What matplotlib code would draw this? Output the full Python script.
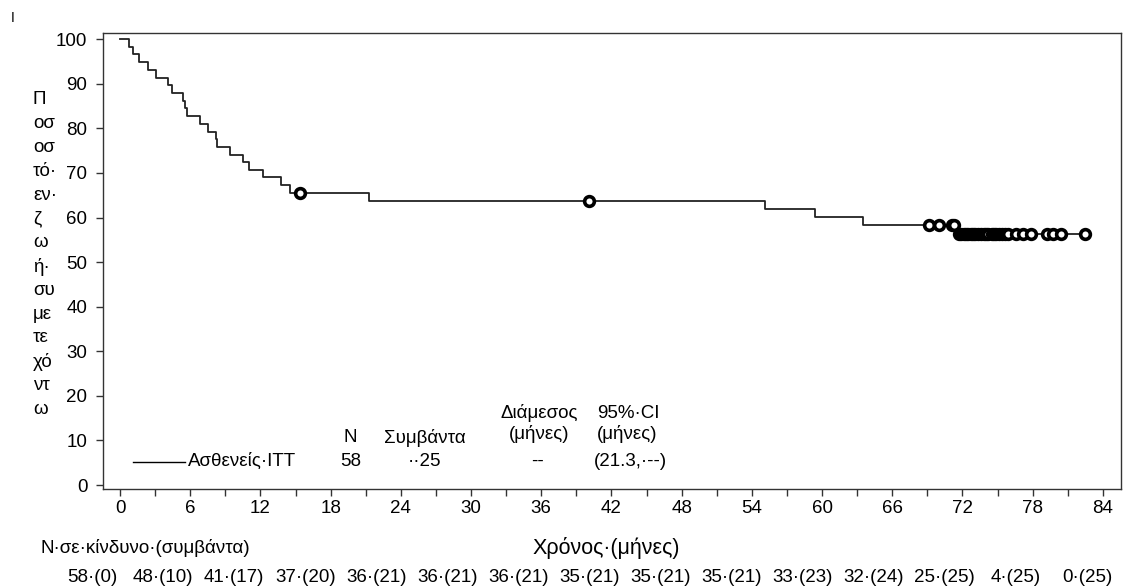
import matplotlib
matplotlib.use("Agg")
import matplotlib.pyplot as plt
import numpy as np

plt.rcParams["font.family"] = ["Liberation Sans", "DejaVu Sans"]

# event times (months) and survival (%) after each event
event_months = [0.77, 1.14, 1.65, 2.42, 3.05, 4.13, 4.42, 5.41, 5.56, 5.75,
                6.84, 7.55, 8.21, 8.26, 9.40, 10.49, 11.03, 12.25, 13.76, 14.53,
                21.3, 55.1, 59.4, 63.5, 71.5]
event_surv = [98.3, 96.6, 94.8, 93.1, 91.4, 89.7, 87.9, 86.2, 84.5, 82.8,
              81.0, 79.3, 77.6, 75.9, 74.1, 72.4, 70.7, 69.0, 67.2, 65.5,
              63.8, 61.9, 60.1, 58.3, 56.2]
last_month = 82.5

# censored patients
censor_months = [15.4, 40.1, 69.1, 70.0, 71.1, 71.3,
                 71.7, 71.9, 72.1, 72.3, 72.5, 72.7, 72.9, 73.1, 73.3, 73.6,
                 73.8, 74.0, 74.2, 74.5, 74.7, 74.9, 75.1, 75.4, 75.6, 75.9,
                 76.6, 77.2, 77.9, 79.2, 79.7, 80.4, 82.5]
censor_surv = [65.5, 63.8, 58.3, 58.3, 58.3, 58.3] + [56.2] * 27

xticks = list(range(0, 85, 6))
at_risk = [58, 48, 41, 37, 36, 36, 36, 35, 35, 35, 33, 32, 25, 4, 0]
at_risk_events = [0, 10, 17, 20, 21, 21, 21, 21, 21, 21, 23, 24, 25, 25, 25]

ylabel_parts = ["Π", "οσ", "οσ", "τό·", "εν·", "ζ", "ω", "ή·", "συ", "με",
                "τε", "χό", "ντ", "ω"]

W, H = 1125, 587
FS = 13.5
fig = plt.figure(figsize=(W / 100, H / 100), dpi=100)


def fx(x):
    return x / W


def fy(y):
    return 1 - y / H


ax = fig.add_axes([fx(102.7), fy(489.3), fx(1121) - fx(102.7), fy(33) - fy(489.3)])

xs = [0] + event_months + [last_month]
ys = [100] + event_surv + [event_surv[-1]]
ax.step(xs, ys, where="post", color="#222222", lw=1.3)
ax.plot(censor_months, censor_surv, "o", ms=7, mfc="white", mec="black",
        mew=2.6, ls="none")

ax.set_xlim(-1.48, 85.55)
ax.set_ylim(-0.96, 101.4)
ax.set_xticks(xticks)
ax.set_xticks(np.arange(3, 85, 6), minor=True)
ax.set_yticks(range(0, 101, 10))
ax.tick_params(axis="both", which="both", direction="out", length=5, width=1,
               labelsize=FS, color="#333333")
ax.tick_params(axis="x", pad=3)
ax.tick_params(axis="y", pad=6)
for s in ax.spines.values():
    s.set_color("#333333")
    s.set_linewidth(1)

fig.text(fx(13), fy(18), "I", fontsize=10, ha="center", va="center")

# stacked y label
for i, part in enumerate(ylabel_parts):
    fig.text(fx(33), fy(100 + i * 23.8), part, fontsize=FS, ha="left", va="center")

# legend block
line = plt.Line2D([fx(133), fx(185)], [fy(461.7), fy(461.7)], color="black",
                  lw=1, transform=fig.transFigure)
fig.add_artist(line)
fig.text(fx(188), fy(461.7), "Ασθενείς·ITT", fontsize=FS, ha="left", va="center")
fig.text(fx(350), fy(438), "N", fontsize=FS, ha="center", va="center")
fig.text(fx(351), fy(461.7), "58", fontsize=FS, ha="center", va="center")
fig.text(fx(425), fy(438), "Συμβάντα", fontsize=FS, ha="center", va="center")
fig.text(fx(424), fy(461.7), "··25", fontsize=FS, ha="center", va="center")
fig.text(fx(539), fy(413), "Διάμεσος", fontsize=FS, ha="center", va="center")
fig.text(fx(539), fy(434), "(μήνες)", fontsize=FS, ha="center", va="center")
fig.text(fx(538), fy(461.7), "--", fontsize=FS, ha="center", va="center")
fig.text(fx(628), fy(413), "95%·CI", fontsize=FS, ha="center", va="center")
fig.text(fx(627), fy(434), "(μήνες)", fontsize=FS, ha="center", va="center")
fig.text(fx(630), fy(461.7), "(21.3,·--)", fontsize=FS, ha="center", va="center")

# number at risk table
fig.text(fx(40), fy(548), "N·σε·κίνδυνο·(συμβάντα)", fontsize=FS, ha="left", va="center")
fig.text(fx(606), fy(548), "Χρόνος·(μήνες)", fontsize=15.5, ha="center", va="center")
n = len(at_risk)
for i in range(n):
    cx = 92 + i * (1087 - 92) / (n - 1)
    fig.text(fx(cx), fy(578), f"{at_risk[i]}·({at_risk_events[i]})",
             fontsize=FS, ha="center", va="center")

fig.savefig("out.png", dpi=100)
